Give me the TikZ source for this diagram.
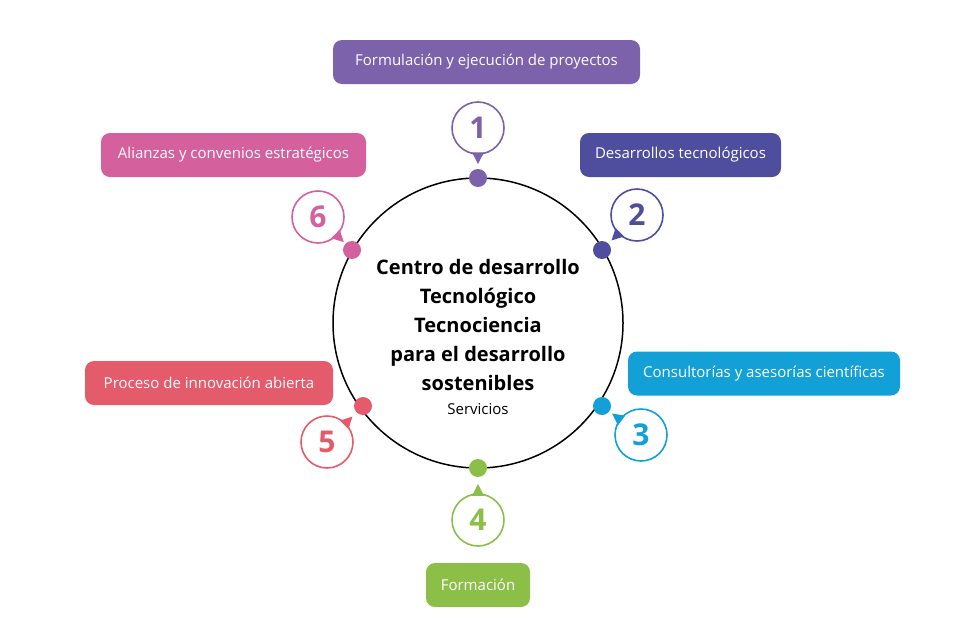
\documentclass[tikz,border=0pt]{standalone}
\usepackage{fontspec}
\setmainfont{Open Sans}
\usetikzlibrary{calc}
\definecolor{c1}{HTML}{7B62AA}
\definecolor{c2}{HTML}{4F4E9E}
\definecolor{c3}{HTML}{12A0D7}
\definecolor{c4}{HTML}{8CBF48}
\definecolor{c5}{HTML}{E45B6B}
\definecolor{c6}{HTML}{D4609E}
\tikzset{
 lbl/.style={fill=#1,text=white,rounded corners=9pt,inner sep=0pt,minimum height=44pt,font=\fontsize{15}{18}\selectfont},
 num/.style={circle,draw=#1,line width=1.6pt,fill=white,minimum size=52pt,inner sep=0pt,text=#1,font=\fontsize{30}{32}\selectfont\bfseries},
 dot/.style={circle,fill=#1,minimum size=18pt,inner sep=0pt},
}
\newcommand{\ptr}[3]{\fill[#3] ($(#1)!25pt!14:(#2)$) -- ($(#1)!36pt!(#2)$) -- ($(#1)!25pt!-14:(#2)$) -- cycle;}
\begin{document}
\begin{tikzpicture}[x=1pt,y=-1pt]
\useasboundingbox (0,0) rectangle (960,640);
\draw[line width=1.5pt] (478,323) circle (145);
\node[lbl=c1,minimum width=307pt] (b1) at (486.5,62) {Formulación y ejecución de proyectos};
\node[lbl=c2,minimum width=201pt] (b2) at (680.5,155) {Desarrollos tecnológicos};
\node[lbl=c3,minimum width=272pt] (b3) at (764,373.5) {Consultorías y asesorías científicas};
\node[lbl=c4,minimum width=104pt] (b4) at (478,585) {Formación};
\node[lbl=c5,minimum width=248pt] (b5) at (209,383) {Proceso de innovación abierta};
\node[lbl=c6,minimum width=265pt] (b6) at (233.5,155) {Alianzas y convenios estratégicos};
\node[dot=c1] (d1) at (478,178) {};
\node[dot=c2] (d2) at (602,250) {};
\node[dot=c3] (d3) at (602,406) {};
\node[dot=c4] (d4) at (478,468) {};
\node[dot=c5] (d5) at (363,406) {};
\node[dot=c6] (d6) at (352,250) {};
\node[num=c1] (n1) at (478,128) {1};
\node[num=c2] (n2) at (637,215) {2};
\node[num=c3] (n3) at (641,435) {3};
\node[num=c4] (n4) at (478,520) {4};
\node[num=c5] (n5) at (327,442) {5};
\node[num=c6] (n6) at (318,217) {6};
\ptr{n1}{d1}{c1}\ptr{n2}{d2}{c2}\ptr{n3}{d3}{c3}
\ptr{n4}{d4}{c4}\ptr{n5}{d5}{c5}\ptr{n6}{d6}{c6}
\node[align=center,font=\fontsize{20}{29}\selectfont\bfseries] (t) at (478,325) {Centro de desarrollo\\Tecnológico\\Tecnociencia\\para el desarrollo\\sostenibles};
\node[font=\fontsize{15}{18}\selectfont] (s) at (478,409) {Servicios};
\end{tikzpicture}
\end{document}
